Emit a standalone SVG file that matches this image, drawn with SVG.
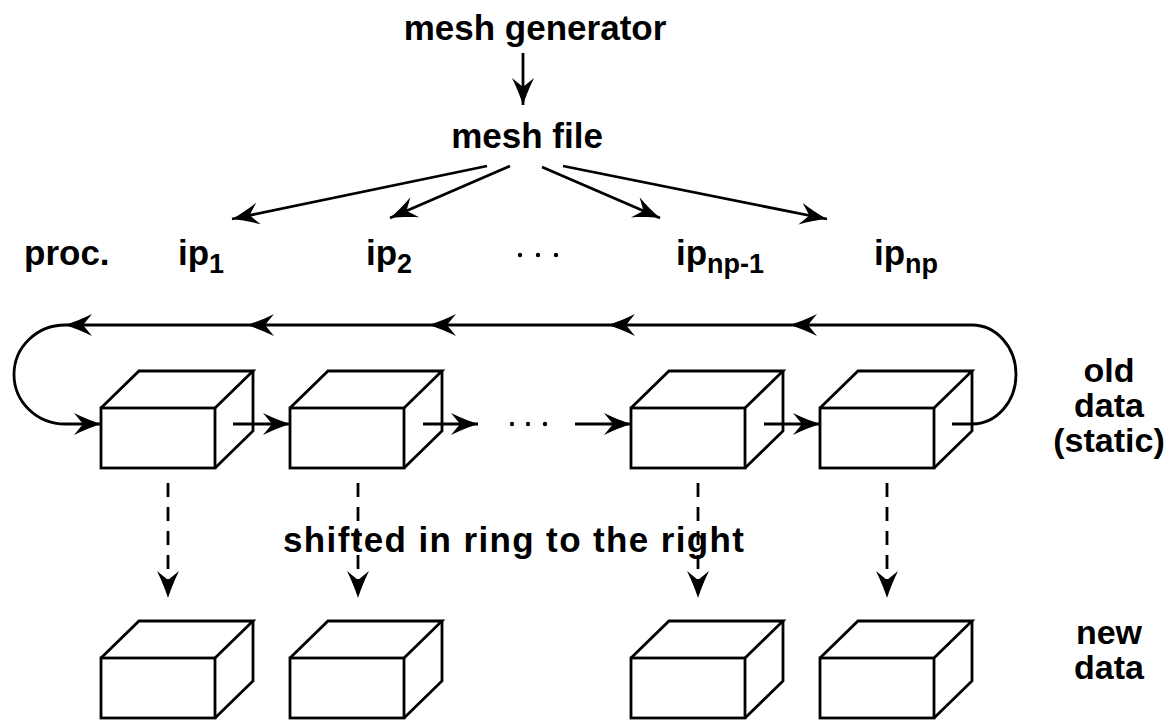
<svg xmlns="http://www.w3.org/2000/svg" width="1176" height="720" viewBox="0 0 1176 720">
  <style>
    .lbl { font-family: "Liberation Sans", Arial, sans-serif; font-weight: bold; font-size: 35px; fill: #000; }
    .side { font-size: 34px; }
    .sub { font-size: 27px; }
    .ln { fill: none; stroke: #000; stroke-width: 2.8; }
    .arr { marker-end: url(#ah); }
    .dash { stroke-dasharray: 14 10; }
    .box { fill: none; stroke: #000; stroke-width: 2.8; stroke-linejoin: miter; }
    .dot { fill: #000; }
  </style>
  <defs>
    <!-- barbed arrowhead, tip at the path end -->
    <marker id="ah" viewBox="-30 -13 32 26" refX="0" refY="0" markerWidth="32" markerHeight="26" markerUnits="userSpaceOnUse" orient="auto">
      <path d="M0,0 C-8,-2.5 -18,-6.5 -27,-11 L-18,0 L-27,11 C-18,6.5 -8,2.5 0,0 Z" fill="#000"/>
    </marker>
    <!-- open box drawn in perspective: front face 114x60, depth (38,-37) -->
    <g id="cube">
      <rect x="0" y="0" width="114" height="60" class="box"/>
      <path d="M0,0 L38,-37 L152,-37 L114,0" class="box"/>
      <path d="M152,-37 L152,23 L114,60" class="box"/>
    </g>
  </defs>

  <rect width="1176" height="720" fill="#fff"/>

  <!-- header labels -->
  <g id="mesh-generator">
    <text class="lbl" x="535" y="40" text-anchor="middle">mesh generator</text>
  </g>
  <g id="mesh-file">
    <text class="lbl" x="527" y="148" text-anchor="middle">mesh file</text>
  </g>

  <!-- processor row -->
  <g id="proc-label"><text class="lbl" x="24" y="265">proc.</text></g>
  <g id="ip1"><text class="lbl" x="178" y="265">ip<tspan class="sub" dy="8">1</tspan></text></g>
  <g id="ip2"><text class="lbl" x="366" y="265">ip<tspan class="sub" dy="8">2</tspan></text></g>
  <g id="ip-dots">
    <circle class="dot" cx="520" cy="255" r="2.2"/>
    <circle class="dot" cx="538" cy="255" r="2.2"/>
    <circle class="dot" cx="556" cy="255" r="2.2"/>
  </g>
  <g id="ip-np-1"><text class="lbl" x="676" y="265">ip<tspan class="sub" dy="8">np-1</tspan></text></g>
  <g id="ip-np"><text class="lbl" x="874" y="265">ip<tspan class="sub" dy="8">np</tspan></text></g>

  <!-- old data boxes -->
  <g id="old-1"><use href="#cube" x="101" y="408"/></g>
  <g id="old-2"><use href="#cube" x="290" y="408"/></g>
  <g id="old-dots">
    <circle class="dot" cx="512" cy="424" r="2.2"/>
    <circle class="dot" cx="528" cy="424" r="2.2"/>
    <circle class="dot" cx="545" cy="424" r="2.2"/>
  </g>
  <g id="old-3"><use href="#cube" x="631" y="408"/></g>
  <g id="old-4"><use href="#cube" x="820" y="408"/></g>

  <!-- new data boxes -->
  <g id="new-1"><use href="#cube" x="101" y="658"/></g>
  <g id="new-2"><use href="#cube" x="290" y="658"/></g>
  <g id="new-3"><use href="#cube" x="631" y="658"/></g>
  <g id="new-4"><use href="#cube" x="820" y="658"/></g>

  <!-- side labels -->
  <g id="old-data-label">
    <text class="lbl side" x="1109" y="382" text-anchor="middle">old</text>
    <text class="lbl side" x="1109" y="417" text-anchor="middle">data</text>
    <text class="lbl side" x="1109" y="452" text-anchor="middle">(static)</text>
  </g>
  <g id="new-data-label">
    <text class="lbl side" x="1109" y="644" text-anchor="middle">new</text>
    <text class="lbl side" x="1109" y="679" text-anchor="middle">data</text>
  </g>

  <!-- connectors -->
  <g id="connectors">
    <path class="ln arr" d="M523,53 L523,105"/>
    <path class="ln arr" d="M487,166 L232,219"/>
    <path class="ln arr" d="M510,166 L390,218"/>
    <path class="ln arr" d="M542,167 L660,218"/>
    <path class="ln arr" d="M563,166 L827,219"/>

    <!-- ring: back from the last processor to the first -->
    <path class="ln" d="M952,424 L972,424 A44,49.5 0 0 0 972,325"/>
    <path class="ln arr" d="M972,325 L790,325"/>
    <path class="ln arr" d="M790,325 L608,325"/>
    <path class="ln arr" d="M608,325 L429,325"/>
    <path class="ln arr" d="M429,325 L247,325"/>
    <path class="ln arr" d="M247,325 L65,325"/>
    <path class="ln arr" d="M65,325 A51,49.5 0 0 0 65,424 L101,424"/>

    <!-- forward shifts between neighbours -->
    <path class="ln arr" d="M233,424 L290,424"/>
    <path class="ln arr" d="M423,424 L478,424"/>
    <path class="ln arr" d="M575,424 L631,424"/>
    <path class="ln arr" d="M764,424 L820,424"/>

    <!-- old to new copies -->
    <path class="ln dash arr" d="M168,483 L168,598"/>
    <path class="ln dash arr" d="M358,483 L358,598"/>
    <path class="ln dash arr" d="M698,483 L698,598"/>
    <path class="ln dash arr" d="M887,483 L887,598"/>
  </g>

  <g id="shift-label">
    <text class="lbl" x="283" y="552" textLength="461" lengthAdjust="spacing">shifted in ring to the right</text>
  </g>
</svg>
